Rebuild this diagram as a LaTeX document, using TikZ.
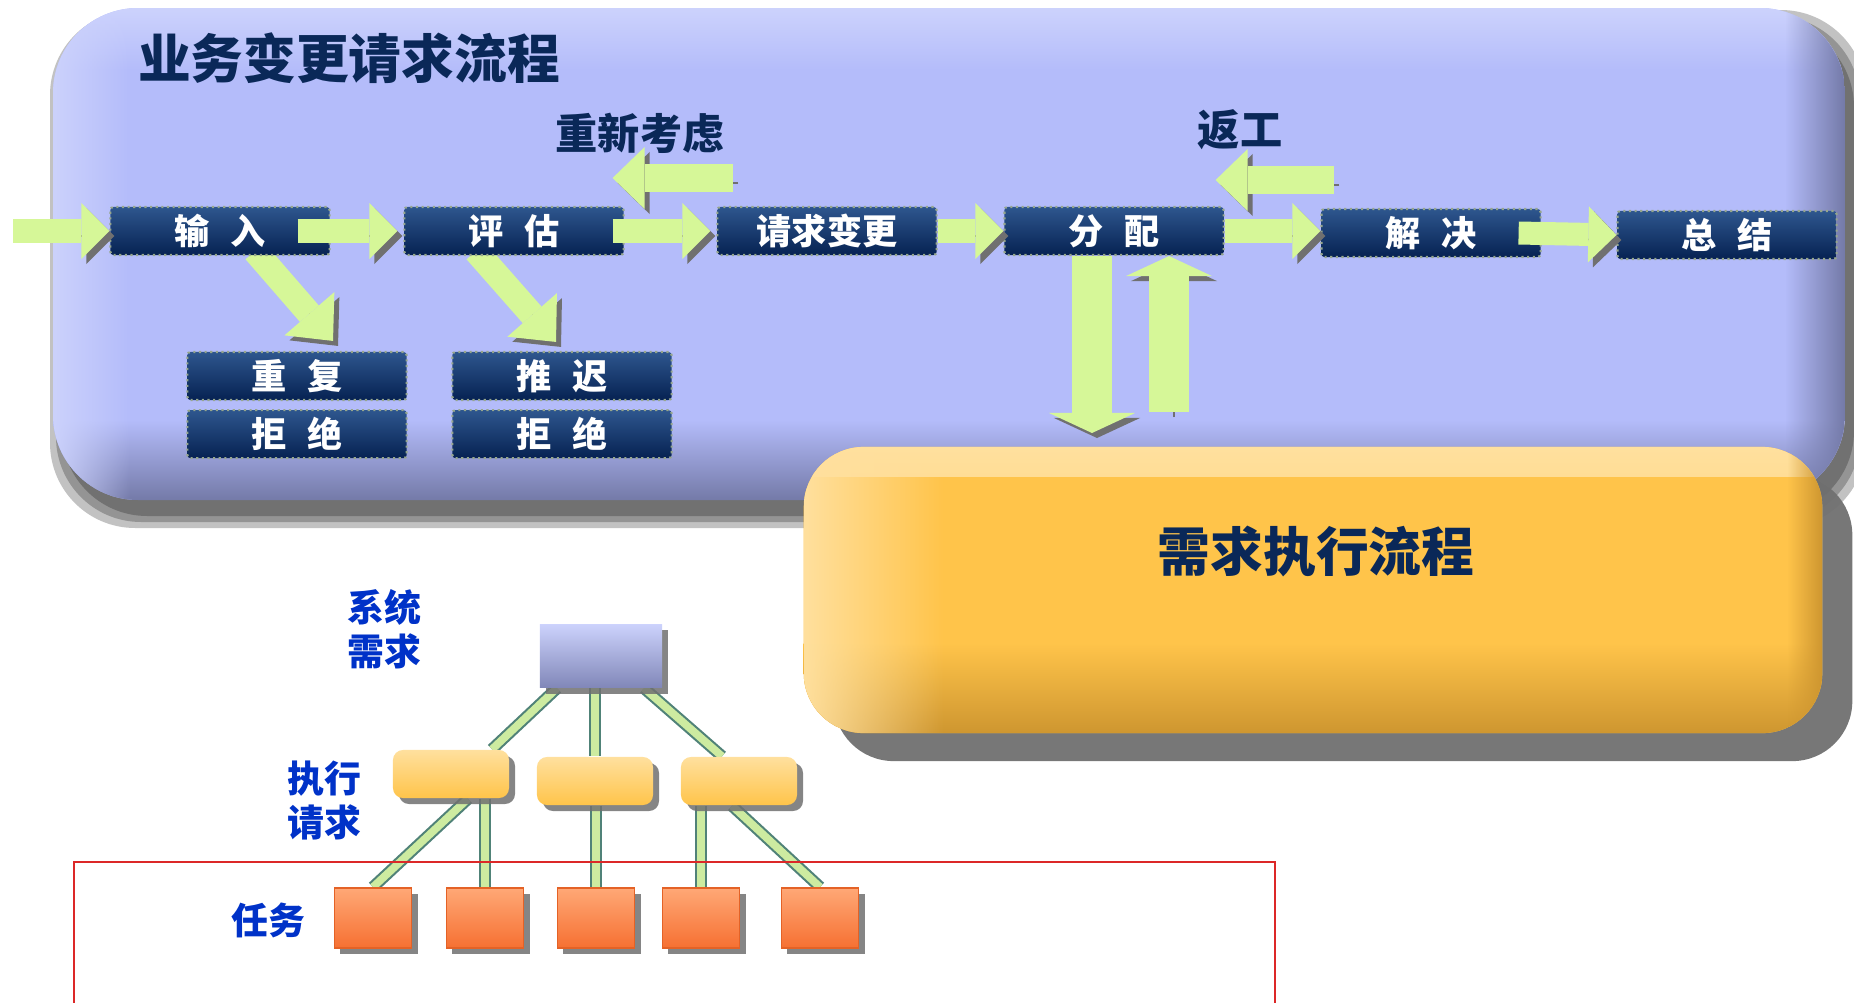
\documentclass[tikz,border=0pt]{standalone}
\usepackage{fontspec}
\newfontfamily\cjk{Noto Sans CJK SC}
\usetikzlibrary{positioning}
\usetikzlibrary{calc}
\usetikzlibrary{arrows.meta}
\usetikzlibrary{shadows}
\usetikzlibrary{fadings}
\pgfdeclarelayer{flowpanel}
\pgfdeclarelayer{flowunder}
\pgfsetlayers{flowpanel,flowunder,main}
\tikzfading[name=fade right, left color=transparent!0, right color=transparent!100]
\tikzfading[name=fade left, left color=transparent!100, right color=transparent!0]

\definecolor{panelblue}{RGB}{180,188,250}
\definecolor{panellight}{RGB}{204,210,252}
\definecolor{paneldark}{RGB}{116,122,168}
\definecolor{navytop}{RGB}{46,86,142}
\definecolor{navymid}{RGB}{12,50,108}
\definecolor{navybot}{RGB}{6,34,82}
\definecolor{navydots}{RGB}{150,166,140}
\definecolor{navytext}{RGB}{10,40,88}
\definecolor{arrowgreen}{RGB}{214,247,152}
\definecolor{shadowgray}{RGB}{112,112,112}
\definecolor{goldtop}{RGB}{255,224,158}
\definecolor{goldmid}{RGB}{255,196,74}
\definecolor{goldbot}{RGB}{206,150,48}
\definecolor{labelblue}{RGB}{0,50,200}
\definecolor{linkedge}{RGB}{80,130,120}
\definecolor{linkfill}{RGB}{205,235,160}
\definecolor{tasktop}{RGB}{255,168,118}
\definecolor{taskbot}{RGB}{246,112,50}
\definecolor{taskedge}{RGB}{228,98,38}
\definecolor{framered}{RGB}{220,40,40}

\tikzset{
	navybox/.style={rectangle, rounded corners=0.03cm, minimum width=2.19cm, minimum height=0.48cm, inner sep=0pt,
		top color=navytop, middle color=navymid, bottom color=navybot, draw=navydots, densely dotted, line width=0.6pt,
		text=white, font=\cjk\bfseries\fontsize{10pt}{12pt}\selectfont},
	flowarrow/.style={line width=0.23cm, draw=arrowgreen, -{Triangle[length=0.28cm,width=0.56cm,line width=0pt]},
		preaction={draw=shadowgray, transform canvas={shift={(0.05cm,-0.05cm)}}}},
	backarrow/.style={flowarrow, line width=0.27cm, -{Triangle[length=0.32cm,width=0.62cm,line width=0pt]}},
	diagarrow/.style={flowarrow, line width=0.25cm, -{Triangle[length=0.36cm,width=0.66cm,line width=0pt]}},
	bigarrow/.style={flowarrow, line width=0.4cm, -{Triangle[length=0.2cm,width=0.86cm,line width=0pt]}},
	flowlabel/.style={text=navytext, font=\cjk\bfseries\fontsize{12pt}{14pt}\selectfont},
	titlelabel/.style={text=navytext, font=\cjk\bfseries\fontsize{15pt}{18pt}\selectfont},
	execpanel/.style={rectangle, rounded corners=0.6cm, minimum width=10.18cm, minimum height=2.86cm, inner sep=0pt,
		fill=goldmid, drop shadow={shadow xshift=0.3cm, shadow yshift=-0.28cm, fill=shadowgray, opacity=0.95},
		path picture={
			\shade[sharp corners, top color=goldtop, bottom color=goldmid] (path picture bounding box.north west) rectangle ([yshift=-0.3cm]path picture bounding box.north east);
			\shade[sharp corners, top color=goldmid, bottom color=goldbot] ([yshift=0.9cm]path picture bounding box.south west) rectangle (path picture bounding box.south east);
			\fill[sharp corners, goldbot, path fading=fade left] ([xshift=-0.35cm]path picture bounding box.north east) rectangle (path picture bounding box.south east);
			\fill[sharp corners, goldtop, path fading=fade right] (path picture bounding box.north west) rectangle ([xshift=1.4cm]path picture bounding box.south west);
		}},
	treelabel/.style={text=labelblue, align=center, font=\cjk\bfseries\fontsize{10.5pt}{12.5pt}\selectfont},
	treeshadow/.style={drop shadow={shadow xshift=0.06cm, shadow yshift=-0.06cm, fill=shadowgray, opacity=0.85}},
	sysbox/.style={rectangle, minimum width=1.22cm, minimum height=0.63cm, inner sep=0pt,
		top color=panellight, middle color=panelblue, bottom color=paneldark!80!panelblue, treeshadow},
	exebox/.style={rectangle, rounded corners=0.1cm, minimum width=1.16cm, minimum height=0.48cm, inner sep=0pt,
		top color=goldtop, bottom color=goldmid, treeshadow},
	taskbox/.style={rectangle, minimum width=0.77cm, minimum height=0.6cm, inner sep=0pt,
		top color=tasktop, bottom color=taskbot, draw=taskedge, line width=0.5pt, treeshadow},
	treelink/.style={draw=linkedge, double=linkfill, line width=0.6pt, double distance=2.2pt},
	taskframe/.style={draw=framered, line width=0.7pt}
}

\begin{document}
\begin{tikzpicture}[x=0.01cm, y=-0.01cm]
	\useasboundingbox (0,0) rectangle (1854,1003);
	% request panel with its shadow
	\begin{pgfonlayer}{flowpanel}
		\foreach \g in {12,6,0} {
			\fill[black, opacity=0.24, rounded corners=0.85cm] (62-\g,22-\g) rectangle (1854+\g,516+\g);
		}
		\begin{scope}
			\clip[rounded corners=0.85cm] (53,8) rectangle (1845,500);
			\fill[panelblue] (53,8) rectangle (1845,500);
			\shade[top color=panellight, bottom color=panelblue] (53,8) rectangle (1845,70);
			\shade[top color=panelblue, bottom color=paneldark] (53,420) rectangle (1845,500);
			\fill[paneldark, path fading=fade left] (1785,8) rectangle (1845,500);
			\fill[panellight, path fading=fade right] (53,8) rectangle (130,500);
		\end{scope}
	\end{pgfonlayer}
	\node[titlelabel] (title) at (349,58) {业务变更请求流程};
	\node[execpanel] (exec) at (1313,590) {};
	\node[titlelabel] (exectitle) at (1316,552) {需求执行流程};

	\node[navybox] (in) at (220,231) {输\hspace{0.6em}入};
	\node[navybox] (eval) at (514,231) {评\hspace{0.6em}估};
	\node[navybox] (req) at (827,231) {请求变更};
	\node[navybox] (assign) at (1114,231) {分\hspace{0.6em}配};
	\node[navybox] (resolve) at (1431,233) {解\hspace{0.6em}决};
	\node[navybox] (summary) at (1727,235) {总\hspace{0.6em}结};
	\node[navybox] (repeat) at (297,376) {重\hspace{0.6em}复};
	\node[navybox, below=0.08cm of repeat] (rejectA) {拒\hspace{0.6em}绝};
	\node[navybox] (delay) at (562,376) {推\hspace{0.6em}迟};
	\node[navybox, below=0.08cm of delay] (rejectB) {拒\hspace{0.6em}绝};
	\node[flowlabel] (rethink) at (640,133) {重新考虑};
	\node[flowlabel] (rework) at (1240,130) {返工};

	\coordinate (feed) at (13,231);
	\coordinate (rethinkend) at (733,178);
	\coordinate (reworkend) at (1334,180);
	\coordinate (downtip) at (1092,433);
	\coordinate (upend) at (1169,412);

	\draw[flowarrow] (feed) -- (in.west);
	\draw[flowarrow] ([xshift=-0.33cm]in.east) -- ([xshift=-0.06cm]eval.west);
	\draw[flowarrow] ([xshift=-0.12cm]eval.east) -- ([xshift=-0.06cm]req.west);
	\draw[flowarrow] (req.east) -- (assign.west);
	\draw[flowarrow] (assign.east) -- (assign.east -| resolve.west);
	\draw[flowarrow] ([xshift=-0.23cm]resolve.east) -- (summary.west);
	\begin{pgfonlayer}{flowunder}
		\draw[diagarrow] ([xshift=0.35cm,yshift=0.05cm]in.south) -- ([xshift=0.36cm,yshift=0.1cm]repeat.north);
		\draw[diagarrow] ([xshift=-0.38cm,yshift=0.05cm]eval.south) -- ([xshift=-0.06cm,yshift=0.09cm]delay.north);
	\end{pgfonlayer}
	\draw[backarrow] (rethinkend) -- ([xshift=-0.12cm]rethinkend -| eval.east);
	\draw[backarrow] (reworkend) -- ([xshift=-0.09cm]reworkend -| assign.east);
	\draw[bigarrow] (assign.south -| downtip) -- (downtip);
	\draw[bigarrow] (upend) -- (upend |- assign.south);

	% requirement tree
	\node[treelabel] (syslabel) at (384,629) {系统\\需求};
	\node[treelabel] (exelabel) at (324,800) {执行\\请求};
	\node[treelabel] (tasklabel) at (268,920) {任务};
	\node[sysbox] (sysreq) at (601,656) {};
	\node[exebox] (exeA) at (451,774) {};
	\node[exebox] (exeB) at (595,781) {};
	\node[exebox] (exeC) at (739,781) {};
	\foreach \x [count=\i] in {373,485,596,701,820} {
		\node[taskbox] (task\i) at (\x,918) {};
	}
	\begin{pgfonlayer}{flowunder}
		\draw[treelink] ([xshift=-0.44cm]sysreq.south) -- ([xshift=0.41cm]exeA.north);
		\draw[treelink] (exeB.north |- sysreq.south) -- (exeB.north);
		\draw[treelink] ([xshift=0.43cm]sysreq.south) -- ([xshift=-0.17cm]exeC.north);
		\draw[treelink] ([xshift=0.17cm]exeA.south) -- (task1.north);
		\draw[treelink] (task2.north |- exeA.south) -- (task2.north);
		\draw[treelink] (task3.north |- exeB.south) -- (task3.north);
		\draw[treelink] (task4.north |- exeC.south) -- (task4.north);
		\draw[treelink] ([xshift=-0.07cm]exeC.south) -- (task5.north);
	\end{pgfonlayer}
	\draw[taskframe] (74,1012) -- (74,862) -- (1275,862) -- (1275,1012);
\end{tikzpicture}
\end{document}
